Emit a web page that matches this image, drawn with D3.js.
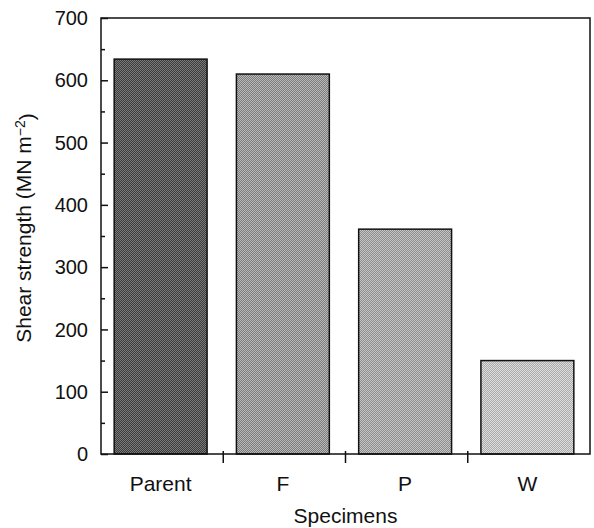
<!DOCTYPE html>
<html>
<head>
<meta charset="utf-8">
<script src="https://cdn.jsdelivr.net/npm/d3@7"></script>
<style>
    body { margin: 0; background: #fff; }
    text { font-family: "Liberation Sans", Arial, sans-serif; fill: #111; }
</style>
</head>
<body>
<div id="graph"></div>
<script>
var specimens = ["Parent", "F", "P", "W"],
    strength = [634, 610, 361, 150],
    // two tones of the halftone screen for each bar
    toneDark = ["#3c3c3c", "#7c7c7c", "#8c8c8c", "#aaaaaa"],
    toneLight = ["#7a7a7a", "#b8b8b8", "#c6c6c6", "#dedede"],
    yTicks = [0, 100, 200, 300, 400, 500, 600, 700],
    yMinor = [50, 150, 250, 350, 450, 550, 650];

function dessin() {
    "use strict";
    var margin = {top: 18, right: 4, bottom: 74, left: 101},
        width = 594 - margin.left - margin.right,
        height = 528 - margin.top - margin.bottom,

        root = d3.select("#graph")
            .append("svg")
                .attr("width", 594)
                .attr("height", 528),

        defs = root.append("defs"),

        svg = root.append("g")
            .attr("transform", "translate(" + margin.left + "," + margin.top + ")"),

        x = d3.scaleBand()
            .domain(specimens)
            .range([0, width])
            .paddingInner(0.24)
            .paddingOuter(0.12),

        // step boundaries between categories (the x ticks)
        xStep = d3.scaleLinear()
            .domain([0, specimens.length])
            .range([0, width]),

        y = d3.scaleLinear()
            .domain([0, 700])
            .range([height, 0]);

    // halftone patterns
    specimens.forEach(function (s, i) {
        var p = defs.append("pattern")
            .attr("id", "ht" + i)
            .attr("width", 2)
            .attr("height", 2)
            .attr("patternUnits", "userSpaceOnUse");
        p.append("rect").attr("width", 2).attr("height", 2).attr("fill", toneLight[i]);
        p.append("rect").attr("width", 1).attr("height", 1).attr("fill", toneDark[i]);
        p.append("rect").attr("x", 1).attr("y", 1).attr("width", 1).attr("height", 1).attr("fill", toneDark[i]);
    });

    // bars
    svg.selectAll(".bar")
        .data(specimens)
        .enter()
        .append("rect")
        .attr("class", "bar")
        .attr("x", function (d) { return x(d) - 1.5; })
        .attr("width", x.bandwidth())
        .attr("y", function (d, i) { return y(strength[i]); })
        .attr("height", function (d, i) { return y(0) - y(strength[i]); })
        .attr("fill", function (d, i) { return "url(#ht" + i + ")"; })
        .attr("stroke", "#111")
        .attr("stroke-width", 1.5);

    // frame
    svg.append("rect")
        .attr("width", width)
        .attr("height", height)
        .attr("fill", "none")
        .attr("stroke", "#111")
        .attr("stroke-width", 1.5);

    // y axis : ticks inside
    var yAxis = svg.append("g")
        .call(d3.axisRight(y).tickValues(yTicks).tickSize(7).tickFormat(""));
    yAxis.select(".domain").remove();
    yAxis.selectAll("line").attr("stroke", "#111").attr("stroke-width", 1.5);

    var yAxisMinor = svg.append("g")
        .call(d3.axisRight(y).tickValues(yMinor).tickSize(4).tickFormat(""));
    yAxisMinor.select(".domain").remove();
    yAxisMinor.selectAll("line").attr("stroke", "#111").attr("stroke-width", 1.5);

    svg.selectAll(".ylab")
        .data(yTicks)
        .enter()
        .append("text")
        .attr("class", "ylab")
        .attr("x", -13)
        .attr("y", function (d) { return y(d); })
        .attr("dy", "0.36em")
        .style("text-anchor", "end")
        .style("font-size", "20px")
        .text(function (d) { return d; });

    // x ticks between categories
    svg.selectAll(".xtick")
        .data(d3.range(1, specimens.length))
        .enter()
        .append("line")
        .attr("class", "xtick")
        .attr("x1", function (d) { return xStep(d); })
        .attr("x2", function (d) { return xStep(d); })
        .attr("y1", height - 3)
        .attr("y2", height + 9)
        .attr("stroke", "#111")
        .attr("stroke-width", 1.5);

    svg.selectAll(".xlab")
        .data(specimens)
        .enter()
        .append("text")
        .attr("class", "xlab")
        .attr("x", function (d) { return x(d) + x.bandwidth() / 2 - 1.5; })
        .attr("y", height + 37)
        .style("text-anchor", "middle")
        .style("font-size", "21px")
        .text(function (d) { return d; });

    svg.append("text")
        .attr("x", width / 2)
        .attr("y", height + 69)
        .style("text-anchor", "middle")
        .style("font-size", "21px")
        .text("Specimens");

    var yt = svg.append("text")
        .attr("transform", "translate(" + (-70) + "," + (height / 2 - 8) + ") rotate(-90)")
        .style("text-anchor", "middle")
        .style("font-size", "21px");
    yt.append("tspan").text("Shear strength (MN m");
    yt.append("tspan").attr("dy", "-0.45em").style("font-size", "14px").text("\u22122");
    yt.append("tspan").attr("dy", "0.45em").text(")");
}

dessin();
</script>
</body>
</html>
